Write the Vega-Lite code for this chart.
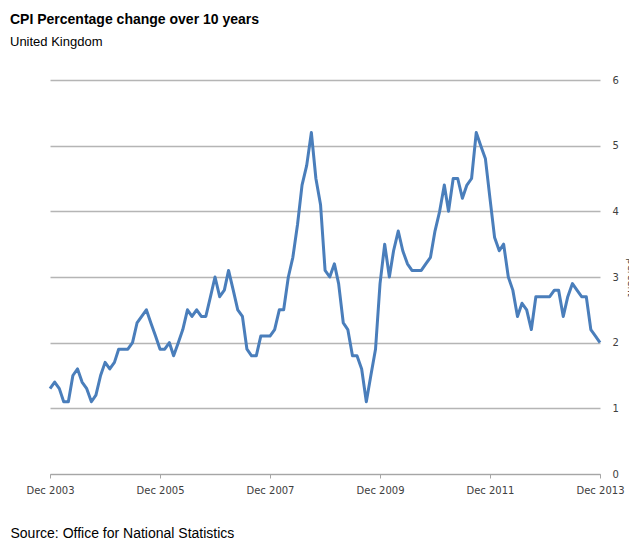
{
  "$schema": "https://vega.github.io/schema/vega-lite/v6.json",
  "autosize": {"type": "none"},
  "width": 550,
  "height": 394,
  "padding": {"left": 50, "top": 80, "right": 29, "bottom": 66},
  "background": "white",
  "title": {
    "text": "CPI Percentage change over 10 years",
    "subtitle": "United Kingdom",
    "anchor": "start",
    "frame": "group",
    "dx": -40,
    "offset": 26,
    "font": "Liberation Sans",
    "fontSize": 14,
    "fontWeight": "bold",
    "color": "#000000",
    "subtitleFont": "Liberation Sans",
    "subtitleFontSize": 13,
    "subtitleColor": "#000000",
    "subtitlePadding": 9
  },
  "config": {"view": {"stroke": null}},
  "data": {
    "values": [
      {"date": "2003-12-01", "cpi": 1.3},
      {"date": "2004-01-01", "cpi": 1.4},
      {"date": "2004-02-01", "cpi": 1.3},
      {"date": "2004-03-01", "cpi": 1.1},
      {"date": "2004-04-01", "cpi": 1.1},
      {"date": "2004-05-01", "cpi": 1.5},
      {"date": "2004-06-01", "cpi": 1.6},
      {"date": "2004-07-01", "cpi": 1.4},
      {"date": "2004-08-01", "cpi": 1.3},
      {"date": "2004-09-01", "cpi": 1.1},
      {"date": "2004-10-01", "cpi": 1.2},
      {"date": "2004-11-01", "cpi": 1.5},
      {"date": "2004-12-01", "cpi": 1.7},
      {"date": "2005-01-01", "cpi": 1.6},
      {"date": "2005-02-01", "cpi": 1.7},
      {"date": "2005-03-01", "cpi": 1.9},
      {"date": "2005-04-01", "cpi": 1.9},
      {"date": "2005-05-01", "cpi": 1.9},
      {"date": "2005-06-01", "cpi": 2.0},
      {"date": "2005-07-01", "cpi": 2.3},
      {"date": "2005-08-01", "cpi": 2.4},
      {"date": "2005-09-01", "cpi": 2.5},
      {"date": "2005-10-01", "cpi": 2.3},
      {"date": "2005-11-01", "cpi": 2.1},
      {"date": "2005-12-01", "cpi": 1.9},
      {"date": "2006-01-01", "cpi": 1.9},
      {"date": "2006-02-01", "cpi": 2.0},
      {"date": "2006-03-01", "cpi": 1.8},
      {"date": "2006-04-01", "cpi": 2.0},
      {"date": "2006-05-01", "cpi": 2.2},
      {"date": "2006-06-01", "cpi": 2.5},
      {"date": "2006-07-01", "cpi": 2.4},
      {"date": "2006-08-01", "cpi": 2.5},
      {"date": "2006-09-01", "cpi": 2.4},
      {"date": "2006-10-01", "cpi": 2.4},
      {"date": "2006-11-01", "cpi": 2.7},
      {"date": "2006-12-01", "cpi": 3.0},
      {"date": "2007-01-01", "cpi": 2.7},
      {"date": "2007-02-01", "cpi": 2.8},
      {"date": "2007-03-01", "cpi": 3.1},
      {"date": "2007-04-01", "cpi": 2.8},
      {"date": "2007-05-01", "cpi": 2.5},
      {"date": "2007-06-01", "cpi": 2.4},
      {"date": "2007-07-01", "cpi": 1.9},
      {"date": "2007-08-01", "cpi": 1.8},
      {"date": "2007-09-01", "cpi": 1.8},
      {"date": "2007-10-01", "cpi": 2.1},
      {"date": "2007-11-01", "cpi": 2.1},
      {"date": "2007-12-01", "cpi": 2.1},
      {"date": "2008-01-01", "cpi": 2.2},
      {"date": "2008-02-01", "cpi": 2.5},
      {"date": "2008-03-01", "cpi": 2.5},
      {"date": "2008-04-01", "cpi": 3.0},
      {"date": "2008-05-01", "cpi": 3.3},
      {"date": "2008-06-01", "cpi": 3.8},
      {"date": "2008-07-01", "cpi": 4.4},
      {"date": "2008-08-01", "cpi": 4.7},
      {"date": "2008-09-01", "cpi": 5.2},
      {"date": "2008-10-01", "cpi": 4.5},
      {"date": "2008-11-01", "cpi": 4.1},
      {"date": "2008-12-01", "cpi": 3.1},
      {"date": "2009-01-01", "cpi": 3.0},
      {"date": "2009-02-01", "cpi": 3.2},
      {"date": "2009-03-01", "cpi": 2.9},
      {"date": "2009-04-01", "cpi": 2.3},
      {"date": "2009-05-01", "cpi": 2.2},
      {"date": "2009-06-01", "cpi": 1.8},
      {"date": "2009-07-01", "cpi": 1.8},
      {"date": "2009-08-01", "cpi": 1.6},
      {"date": "2009-09-01", "cpi": 1.1},
      {"date": "2009-10-01", "cpi": 1.5},
      {"date": "2009-11-01", "cpi": 1.9},
      {"date": "2009-12-01", "cpi": 2.9},
      {"date": "2010-01-01", "cpi": 3.5},
      {"date": "2010-02-01", "cpi": 3.0},
      {"date": "2010-03-01", "cpi": 3.4},
      {"date": "2010-04-01", "cpi": 3.7},
      {"date": "2010-05-01", "cpi": 3.4},
      {"date": "2010-06-01", "cpi": 3.2},
      {"date": "2010-07-01", "cpi": 3.1},
      {"date": "2010-08-01", "cpi": 3.1},
      {"date": "2010-09-01", "cpi": 3.1},
      {"date": "2010-10-01", "cpi": 3.2},
      {"date": "2010-11-01", "cpi": 3.3},
      {"date": "2010-12-01", "cpi": 3.7},
      {"date": "2011-01-01", "cpi": 4.0},
      {"date": "2011-02-01", "cpi": 4.4},
      {"date": "2011-03-01", "cpi": 4.0},
      {"date": "2011-04-01", "cpi": 4.5},
      {"date": "2011-05-01", "cpi": 4.5},
      {"date": "2011-06-01", "cpi": 4.2},
      {"date": "2011-07-01", "cpi": 4.4},
      {"date": "2011-08-01", "cpi": 4.5},
      {"date": "2011-09-01", "cpi": 5.2},
      {"date": "2011-10-01", "cpi": 5.0},
      {"date": "2011-11-01", "cpi": 4.8},
      {"date": "2011-12-01", "cpi": 4.2},
      {"date": "2012-01-01", "cpi": 3.6},
      {"date": "2012-02-01", "cpi": 3.4},
      {"date": "2012-03-01", "cpi": 3.5},
      {"date": "2012-04-01", "cpi": 3.0},
      {"date": "2012-05-01", "cpi": 2.8},
      {"date": "2012-06-01", "cpi": 2.4},
      {"date": "2012-07-01", "cpi": 2.6},
      {"date": "2012-08-01", "cpi": 2.5},
      {"date": "2012-09-01", "cpi": 2.2},
      {"date": "2012-10-01", "cpi": 2.7},
      {"date": "2012-11-01", "cpi": 2.7},
      {"date": "2012-12-01", "cpi": 2.7},
      {"date": "2013-01-01", "cpi": 2.7},
      {"date": "2013-02-01", "cpi": 2.8},
      {"date": "2013-03-01", "cpi": 2.8},
      {"date": "2013-04-01", "cpi": 2.4},
      {"date": "2013-05-01", "cpi": 2.7},
      {"date": "2013-06-01", "cpi": 2.9},
      {"date": "2013-07-01", "cpi": 2.8},
      {"date": "2013-08-01", "cpi": 2.7},
      {"date": "2013-09-01", "cpi": 2.7},
      {"date": "2013-10-01", "cpi": 2.2},
      {"date": "2013-11-01", "cpi": 2.1},
      {"date": "2013-12-01", "cpi": 2.0}
    ]
  },
  "mark": {"type": "line", "color": "#4a7ebb", "strokeWidth": 3, "strokeJoin": "round"},
  "encoding": {
    "x": {
      "field": "date",
      "type": "temporal",
      "scale": {
        "type": "utc",
        "domain": [
          {"year": 2003, "month": 12, "date": 1, "utc": true},
          {"year": 2013, "month": 12, "date": 1, "utc": true}
        ]
      },
      "axis": {
        "values": [
          {"year": 2003, "month": 12, "date": 1, "utc": true},
          {"year": 2005, "month": 12, "date": 1, "utc": true},
          {"year": 2007, "month": 12, "date": 1, "utc": true},
          {"year": 2009, "month": 12, "date": 1, "utc": true},
          {"year": 2011, "month": 12, "date": 1, "utc": true},
          {"year": 2013, "month": 12, "date": 1, "utc": true}
        ],
        "format": "%b %Y",
        "grid": false,
        "domainColor": "#a6a6a6",
        "domainWidth": 1,
        "tickColor": "#a6a6a6",
        "tickSize": 4,
        "labelFont": "DejaVu Sans",
        "labelFontSize": 10,
        "labelColor": "#404040",
        "labelPadding": 7,
        "labelFlush": false,
        "labelOverlap": false,
        "title": "Source: Office for National Statistics",
        "titleX": -40,
        "titleY": 63,
        "titleAlign": "left",
        "titleAnchor": "start",
        "titleBaseline": "alphabetic",
        "titleFont": "Liberation Sans",
        "titleFontSize": 14,
        "titleFontWeight": "normal",
        "titleColor": "#000000"
      }
    },
    "y": {
      "field": "cpi",
      "type": "quantitative",
      "scale": {"domain": [0, 6], "nice": false, "zero": true},
      "axis": {
        "orient": "right",
        "values": [0, 1, 2, 3, 4, 5, 6],
        "grid": true,
        "gridColor": "#b5b5b5",
        "gridWidth": 1.5,
        "domain": false,
        "ticks": false,
        "labelFont": "DejaVu Sans",
        "labelFontSize": 10,
        "labelColor": "#404040",
        "labelPadding": 12,
        "title": "percent",
        "titleAngle": 90,
        "titleX": 27,
        "titleY": 197,
        "titleAlign": "center",
        "titleBaseline": "alphabetic",
        "titleFont": "DejaVu Sans",
        "titleFontSize": 10,
        "titleFontWeight": "normal",
        "titleColor": "#404040"
      }
    }
  }
}
